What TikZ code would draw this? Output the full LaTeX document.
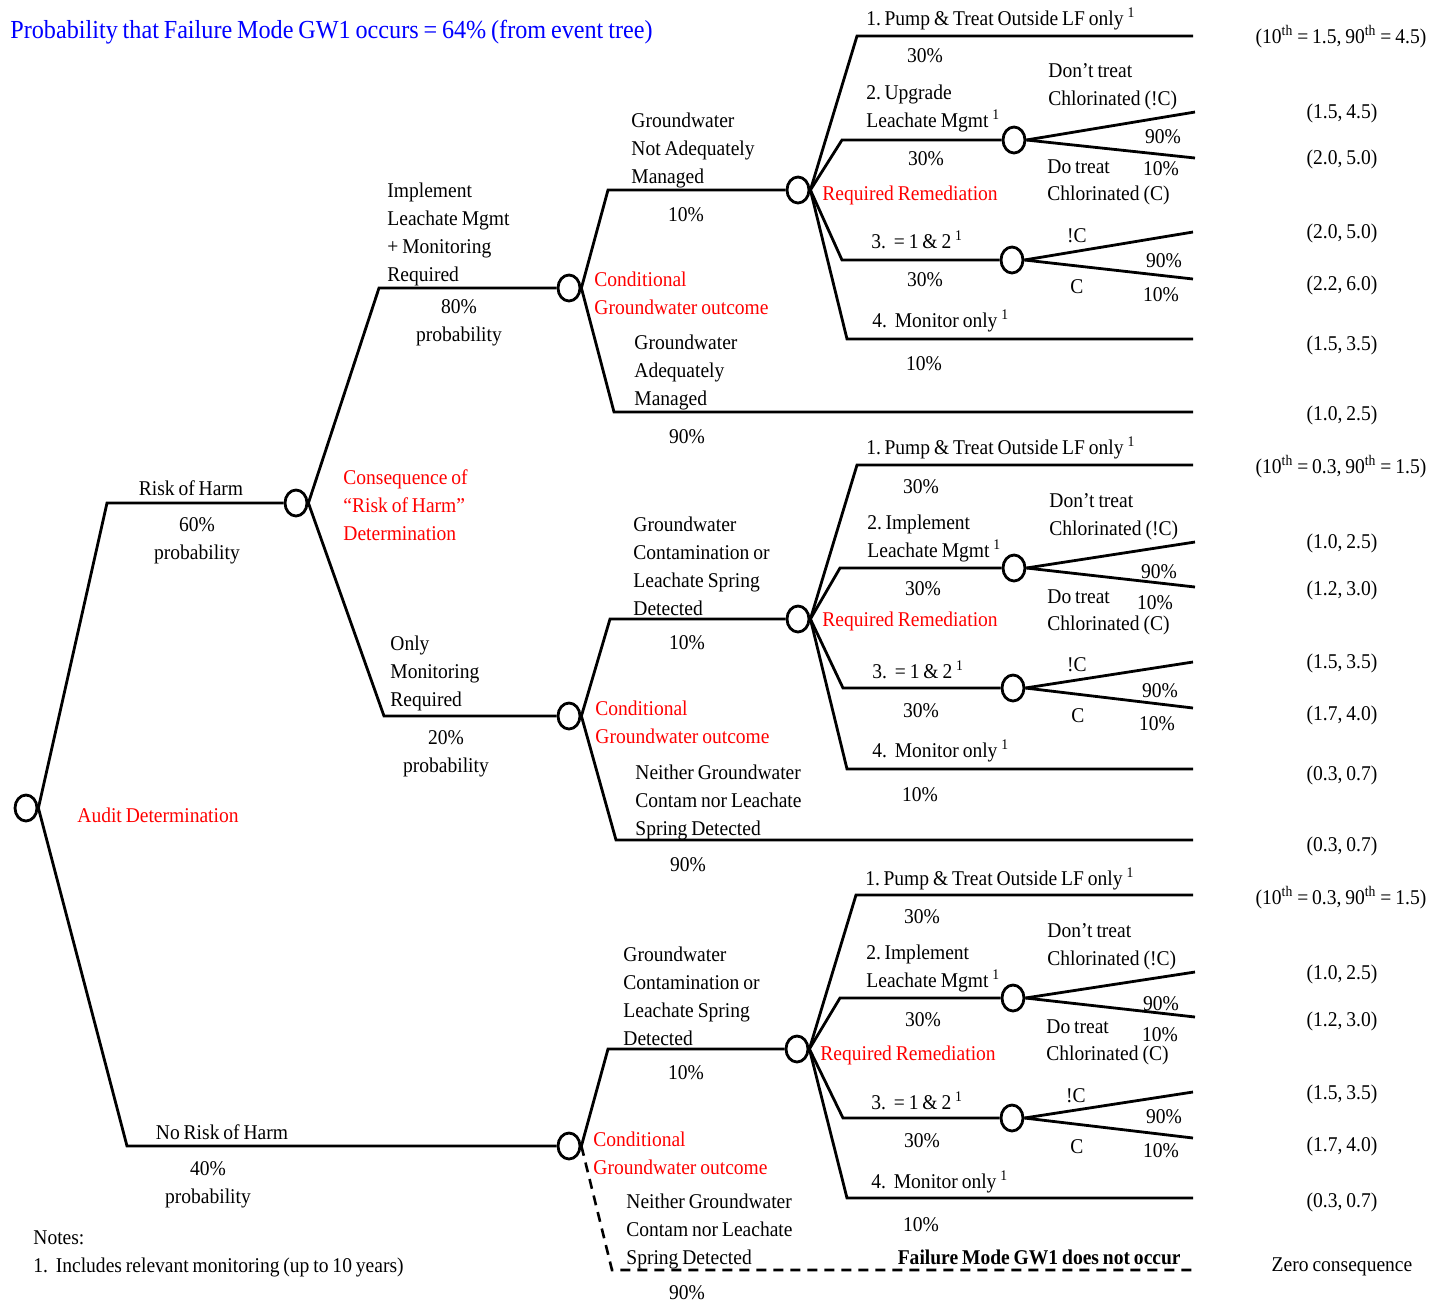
\documentclass[tikz,border=0pt]{standalone}
\usepackage{fontspec}
\setmainfont[FakeStretch=0.93,WordSpace=0.8]{Liberation Serif}
\usetikzlibrary{shapes.geometric}
\definecolor{tred}{RGB}{255,0,0}
\definecolor{tblue}{RGB}{0,0,255}
\begin{document}
\begin{tikzpicture}[x=0.5pt,y=-0.5pt,
  chance/.style={draw,ellipse,line width=1.4pt,minimum width=11pt,minimum height=13pt,inner sep=0pt},
  br/.style={line width=1.4pt,line join=miter},
  brd/.style={line width=1.3pt,dash pattern=on 5pt off 3.5pt},
  lbl/.style={inner sep=0pt,align=left,anchor=west,font=\fontsize{10.5}{14}\selectfont},
  ctr/.style={inner sep=0pt,align=center,font=\fontsize{10.5}{14}\selectfont},
  rlbl/.style={lbl,text=tred},
]
\useasboundingbox (0,0) rectangle (1437,1303);

% ---------- chance nodes ----------
\node[chance] (c0) at (26,808) {};
\node[chance] (c1) at (296,503) {};
\node[chance] (c2) at (569,288) {};
\node[chance] (c3) at (569,716) {};
\node[chance] (c5) at (569,1146) {};
\node[chance] (r1) at (798,190) {};
\node[chance] (r2) at (798,619) {};
\node[chance] (r3) at (797,1049) {};
\node[chance] (t1a) at (1014,140) {};
\node[chance] (t1b) at (1012,260) {};
\node[chance] (t2a) at (1014,568) {};
\node[chance] (t2b) at (1013,688) {};
\node[chance] (t3a) at (1013,998) {};
\node[chance] (t3b) at (1012,1118) {};

% ---------- coordinates ----------
\coordinate (k01) at (107,503);  \coordinate (k02) at (127,1146);
\coordinate (k11) at (379,288);  \coordinate (k12) at (384,716);
\coordinate (k21) at (608,190);  \coordinate (k22) at (614,412);  \coordinate (e22) at (1193,412);
\coordinate (k31) at (610,619);  \coordinate (k32) at (616,840);  \coordinate (e32) at (1193,840);
\coordinate (k51) at (608,1049); \coordinate (k52) at (612,1270); \coordinate (e52) at (1193,1270);
\coordinate (a1) at (857,36);  \coordinate (ea1) at (1193,36);
\coordinate (a2) at (842,140); \coordinate (a3) at (842,260);
\coordinate (a4) at (847,339); \coordinate (ea4) at (1193,339);
\coordinate (u1a) at (1195,112); \coordinate (d1a) at (1195,158);
\coordinate (u1b) at (1193,232); \coordinate (d1b) at (1193,279);
\coordinate (b1) at (857,465);  \coordinate (eb1) at (1193,465);
\coordinate (b2) at (840,568);  \coordinate (b3) at (843,688);
\coordinate (b4) at (847,769);  \coordinate (eb4) at (1193,769);
\coordinate (u2a) at (1195,542); \coordinate (d2a) at (1195,587);
\coordinate (u2b) at (1193,662); \coordinate (d2b) at (1193,708);
\coordinate (f1) at (856,895);  \coordinate (ef1) at (1193,895);
\coordinate (f2) at (840,998);  \coordinate (f3) at (843,1118);
\coordinate (f4) at (847,1198); \coordinate (ef4) at (1193,1198);
\coordinate (u3a) at (1195,972); \coordinate (d3a) at (1195,1017);
\coordinate (u3b) at (1193,1092); \coordinate (d3b) at (1193,1138);

% ---------- branches ----------
\draw[br] (c0.east) -- (k01) -- (c1.west);
\draw[br] (c0.east) -- (k02) -- (c5.west);
\draw[br] (c1.east) -- (k11) -- (c2.west);
\draw[br] (c1.east) -- (k12) -- (c3.west);
\draw[br] (c2.east) -- (k21) -- (r1.west);
\draw[br] (c2.east) -- (k22) -- (e22);
\draw[br] (c3.east) -- (k31) -- (r2.west);
\draw[br] (c3.east) -- (k32) -- (e32);
\draw[br] (c5.east) -- (k51) -- (r3.west);
\draw[brd] (c5.east) -- (k52) -- (e52);
% remediation 1
\draw[br] (r1.east) -- (a1) -- (ea1);
\draw[br] (r1.east) -- (a2) -- (t1a.west);
\draw[br] (r1.east) -- (a3) -- (t1b.west);
\draw[br] (r1.east) -- (a4) -- (ea4);
\draw[br] (t1a.east) -- (u1a); \draw[br] (t1a.east) -- (d1a);
\draw[br] (t1b.east) -- (u1b); \draw[br] (t1b.east) -- (d1b);
% remediation 2
\draw[br] (r2.east) -- (b1) -- (eb1);
\draw[br] (r2.east) -- (b2) -- (t2a.west);
\draw[br] (r2.east) -- (b3) -- (t2b.west);
\draw[br] (r2.east) -- (b4) -- (eb4);
\draw[br] (t2a.east) -- (u2a); \draw[br] (t2a.east) -- (d2a);
\draw[br] (t2b.east) -- (u2b); \draw[br] (t2b.east) -- (d2b);
% remediation 3
\draw[br] (r3.east) -- (f1) -- (ef1);
\draw[br] (r3.east) -- (f2) -- (t3a.west);
\draw[br] (r3.east) -- (f3) -- (t3b.west);
\draw[br] (r3.east) -- (f4) -- (ef4);
\draw[br] (t3a.east) -- (u3a); \draw[br] (t3a.east) -- (d3a);
\draw[br] (t3b.east) -- (u3b); \draw[br] (t3b.east) -- (d3b);

% ---------- title & notes ----------
\node[lbl,text=tblue,font=\fontsize{13}{16}\selectfont] (title) at (10,32) {Probability that Failure Mode GW1 occurs = 64\% (from event tree)};
\node[lbl] (notes) at (33,1254) {Notes:\\1.\ \ Includes relevant monitoring (up to 10 years)};

% ---------- first levels ----------
\node[rlbl] (lAudit) at (77,815) {Audit Determination};
\node[ctr] (lRoH) at (191,488) {Risk of Harm};
\node[ctr] (pRoH) at (197,541) {60\%\\probability};
\node[ctr] (lNRoH) at (222,1132) {No Risk of Harm};
\node[ctr] (pNRoH) at (208,1185) {40\%\\probability};
\node[rlbl] (lCons) at (343,505) {Consequence of\\“Risk of Harm”\\Determination};
\node[lbl] (lImpl) at (387,234) {Implement\\Leachate Mgmt\\+ Monitoring\\Required};
\node[ctr] (pImpl) at (459,323) {80\%\\probability};
\node[lbl] (lOnly) at (390,673) {Only\\Monitoring\\Required};
\node[ctr] (pOnly) at (446,754) {20\%\\probability};

% ---------- group 1 ----------
\node[lbl] (g1a) at (631,150) {Groundwater\\Not Adequately\\Managed};
\node[ctr] (g1ap) at (686,215) {10\%};
\node[rlbl] (g1c) at (594,293) {Conditional\\Groundwater outcome};
\node[lbl] (g1b) at (634,372) {Groundwater\\Adequately\\Managed};
\node[ctr] (g1bp) at (687,437) {90\%};
\node[rlbl] (g1r) at (822,195) {Required Remediation};
\node[lbl] (g1o1) at (866,19) {1.\,Pump \& Treat Outside LF only \textsuperscript{1}};
\node[ctr] (g1o1p) at (925,56) {30\%};
\node[lbl] (g1o2) at (866,108) {2.\,Upgrade\\Leachate Mgmt \textsuperscript{1}};
\node[ctr] (g1o2p) at (926,159) {30\%};
\node[lbl] (g1nc) at (1048,87) {Don’t treat\\Chlorinated (!C)};
\node[ctr] (g1ncp) at (1163,137) {90\%};
\node[lbl] (g1dc) at (1047,167) {Do treat};
\node[lbl] (g1dcb) at (1047,195) {Chlorinated (C)};
\node[ctr] (g1dcp) at (1161,169) {10\%};
\node[lbl] (g1o3) at (871,240) {3.\ \ = 1 \& 2 \textsuperscript{1}};
\node[ctr] (g1o3p) at (925,280) {30\%};
\node[ctr] (g1nc3) at (1077,236) {!C};
\node[ctr] (g1nc3p) at (1164,261) {90\%};
\node[ctr] (g1dc3) at (1077,287) {C};
\node[ctr] (g1dc3p) at (1161,295) {10\%};
\node[lbl] (g1o4) at (872,321) {4.\ \ Monitor only \textsuperscript{1}};
\node[ctr] (g1o4p) at (924,364) {10\%};
\node[ctr] (v11) at (1341,37) {(10\textsuperscript{th} = 1.5, 90\textsuperscript{th} = 4.5)};
\node[ctr] (v12) at (1342,113) {(1.5, 4.5)};
\node[ctr] (v13) at (1342,159) {(2.0, 5.0)};
\node[ctr] (v14) at (1342,233) {(2.0, 5.0)};
\node[ctr] (v15) at (1342,285) {(2.2, 6.0)};
\node[ctr] (v16) at (1342,345) {(1.5, 3.5)};
\node[ctr] (v17) at (1342,415) {(1.0, 2.5)};

% ---------- group 2 ----------
\node[lbl] (g2a) at (633,566) {Groundwater\\Contamination or\\Leachate Spring\\Detected};
\node[ctr] (g2ap) at (687,643) {10\%};
\node[rlbl] (g2c) at (595,722) {Conditional\\Groundwater outcome};
\node[lbl] (g2b) at (635,802) {Neither Groundwater\\Contam nor Leachate\\Spring Detected};
\node[ctr] (g2bp) at (688,865) {90\%};
\node[rlbl] (g2r) at (822,621) {Required Remediation};
\node[lbl] (g2o1) at (866,448) {1.\,Pump \& Treat Outside LF only \textsuperscript{1}};
\node[ctr] (g2o1p) at (921,487) {30\%};
\node[lbl] (g2o2) at (867,538) {2.\,Implement\\Leachate Mgmt \textsuperscript{1}};
\node[ctr] (g2o2p) at (923,589) {30\%};
\node[lbl] (g2nc) at (1049,517) {Don’t treat\\Chlorinated (!C)};
\node[ctr] (g2ncp) at (1159,572) {90\%};
\node[lbl] (g2dc) at (1047,597) {Do treat};
\node[lbl] (g2dcb) at (1047,625) {Chlorinated (C)};
\node[ctr] (g2dcp) at (1155,603) {10\%};
\node[lbl] (g2o3) at (872,670) {3.\ \ = 1 \& 2 \textsuperscript{1}};
\node[ctr] (g2o3p) at (921,711) {30\%};
\node[ctr] (g2nc3) at (1077,665) {!C};
\node[ctr] (g2nc3p) at (1160,691) {90\%};
\node[ctr] (g2dc3) at (1078,716) {C};
\node[ctr] (g2dc3p) at (1157,724) {10\%};
\node[lbl] (g2o4) at (872,751) {4.\ \ Monitor only \textsuperscript{1}};
\node[ctr] (g2o4p) at (920,795) {10\%};
\node[ctr] (v21) at (1341,467) {(10\textsuperscript{th} = 0.3, 90\textsuperscript{th} = 1.5)};
\node[ctr] (v22) at (1342,543) {(1.0, 2.5)};
\node[ctr] (v23) at (1342,590) {(1.2, 3.0)};
\node[ctr] (v24) at (1342,663) {(1.5, 3.5)};
\node[ctr] (v25) at (1342,715) {(1.7, 4.0)};
\node[ctr] (v26) at (1342,775) {(0.3, 0.7)};
\node[ctr] (v27) at (1342,846) {(0.3, 0.7)};

% ---------- group 3 ----------
\node[lbl] (g3a) at (623,996) {Groundwater\\Contamination or\\Leachate Spring\\Detected};
\node[ctr] (g3ap) at (686,1073) {10\%};
\node[rlbl] (g3c) at (593,1153) {Conditional\\Groundwater outcome};
\node[lbl] (g3b) at (626,1231) {Neither Groundwater\\Contam nor Leachate\\Spring Detected};
\node[ctr] (g3bp) at (687,1293) {90\%};
\node[rlbl] (g3r) at (820,1055) {Required Remediation};
\node[lbl] (g3o1) at (865,879) {1.\,Pump \& Treat Outside LF only \textsuperscript{1}};
\node[ctr] (g3o1p) at (922,917) {30\%};
\node[lbl] (g3o2) at (866,968) {2.\,Implement\\Leachate Mgmt \textsuperscript{1}};
\node[ctr] (g3o2p) at (923,1020) {30\%};
\node[lbl] (g3nc) at (1047,947) {Don’t treat\\Chlorinated (!C)};
\node[ctr] (g3ncp) at (1161,1004) {90\%};
\node[lbl] (g3dc) at (1046,1027) {Do treat};
\node[lbl] (g3dcb) at (1046,1055) {Chlorinated (C)};
\node[ctr] (g3dcp) at (1160,1035) {10\%};
\node[lbl] (g3o3) at (871,1101) {3.\ \ = 1 \& 2 \textsuperscript{1}};
\node[ctr] (g3o3p) at (922,1141) {30\%};
\node[ctr] (g3nc3) at (1076,1096) {!C};
\node[ctr] (g3nc3p) at (1164,1117) {90\%};
\node[ctr] (g3dc3) at (1077,1147) {C};
\node[ctr] (g3dc3p) at (1161,1151) {10\%};
\node[lbl] (g3o4) at (871,1182) {4.\ \ Monitor only \textsuperscript{1}};
\node[ctr] (g3o4p) at (921,1225) {10\%};
\node[lbl,anchor=east,font=\fontsize{10.5}{14}\selectfont\bfseries] (g3fail) at (1181,1257) {Failure Mode GW1 does not occur};
\node[ctr] (v31) at (1341,898) {(10\textsuperscript{th} = 0.3, 90\textsuperscript{th} = 1.5)};
\node[ctr] (v32) at (1342,974) {(1.0, 2.5)};
\node[ctr] (v33) at (1342,1021) {(1.2, 3.0)};
\node[ctr] (v34) at (1342,1094) {(1.5, 3.5)};
\node[ctr] (v35) at (1342,1146) {(1.7, 4.0)};
\node[ctr] (v36) at (1342,1202) {(0.3, 0.7)};
\node[ctr] (v37) at (1342,1267) {Zero consequence};
\end{tikzpicture}
\end{document}
